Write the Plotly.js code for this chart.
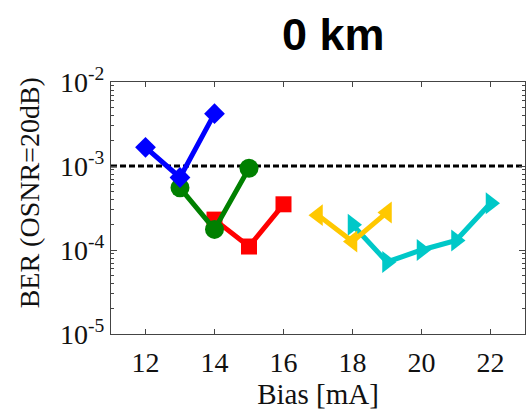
<!DOCTYPE html>
<html>
<head>
<meta charset="utf-8">
<script src="https://cdn.plot.ly/plotly-3.0.1.min.js"></script>
<style>
  html, body { margin: 0; padding: 0; background: #fff; }
  #chart { width: 529px; height: 419px; }
</style>
</head>
<body>
<div id="chart"></div>
<script>
// BER at OSNR = 20 dB versus laser bias current, 0 km transmission
const biasBlue   = [12, 13, 14];
const berBlue    = [1.67e-3, 7.3e-4, 4.2e-3];

const biasGreen  = [13, 14, 15];
const berGreen   = [5.5e-4, 1.76e-4, 9.4e-4];

const biasRed    = [14, 15, 16];
const berRed     = [2.3e-4, 1.1e-4, 3.5e-4];

const biasYellow = [17, 18, 19];
const berYellow  = [2.6e-4, 1.26e-4, 2.8e-4];

const biasCyan   = [18, 19, 20, 21, 22];
const berCyan    = [2.0e-4, 7.2e-5, 1.0e-4, 1.3e-4, 3.6e-4];

// FEC threshold drawn across the full bias range
const thresholdBias = [11, 23];
const thresholdBer  = [1e-3, 1e-3];

const xTicks = [12, 14, 16, 18, 20, 22];
const yTickVals = [1e-5, 1e-4, 1e-3, 1e-2];
const yTickText = ['10<sup>-5</sup>', '10<sup>-4</sup>', '10<sup>-3</sup>', '10<sup>-2</sup>'];

const serif = 'Liberation Serif';
const sans = 'Liberation Sans';

function series(x, y, color, symbol, size) {
  return {
    x: x, y: y, type: 'scatter', mode: 'lines+markers',
    line: { color: color, width: 5 },
    marker: { color: color, symbol: symbol, size: size, line: { width: 0 } },
    showlegend: false, hoverinfo: 'x+y'
  };
}

const traces = [
  {
    x: thresholdBias, y: thresholdBer, type: 'scatter', mode: 'lines',
    line: { color: '#000', width: 3, dash: '6px,3px' },
    showlegend: false, hoverinfo: 'skip'
  },
  series(biasCyan,   berCyan,   '#00c8c8', 'triangle-right', 19),
  series(biasRed,    berRed,    '#ff0000', 'square', 16),
  series(biasGreen,  berGreen,  '#008000', 'circle', 19),
  series(biasBlue,   berBlue,   '#0000ff', 'diamond', 16),
  series(biasYellow, berYellow, '#ffc800', 'triangle-left', 19)
];

const layout = {
  width: 529, height: 419,
  margin: { l: 111, r: 4, t: 82, b: 85 },
  paper_bgcolor: '#fff', plot_bgcolor: '#fff',
  font: { family: serif },
  title: {
    text: '<b>0 km</b>',
    font: { family: sans, size: 45, color: '#000' },
    xref: 'container', x: 0.63, xanchor: 'center',
    yref: 'container', y: 0.919, yanchor: 'middle'
  },
  xaxis: {
    range: [11, 23],
    tickvals: xTicks,
    ticks: 'inside', ticklen: 5, tickcolor: '#444', tickwidth: 1,
    ticklabelstandoff: 3,
    showline: true, linecolor: '#444', linewidth: 1, mirror: 'ticks',
    showgrid: false, zeroline: false,
    tickfont: { family: serif, size: 28, color: '#111' },
    title: { text: 'Bias [mA]', font: { family: serif, size: 29, color: '#111' }, standoff: 5 }
  },
  yaxis: {
    type: 'log',
    range: [-5, -2],
    tickmode: 'array', tickvals: yTickVals, ticktext: yTickText,
    ticks: 'inside', ticklen: 6, tickcolor: '#444', tickwidth: 1,
    minor: { ticks: 'inside', ticklen: 3, dtick: 'D1', tickcolor: '#444', showgrid: false },
    showline: true, linecolor: '#444', linewidth: 1, mirror: 'ticks',
    showgrid: false, zeroline: false,
    tickfont: { family: serif, size: 28, color: '#111' }
  },
  annotations: [{
    text: 'BER (OSNR=20dB)',
    xref: 'paper', yref: 'paper',
    x: -0.196, y: 0.5615, xanchor: 'center', yanchor: 'middle',
    textangle: -90, showarrow: false,
    font: { family: serif, size: 28, color: '#111' }
  }]
};

Plotly.newPlot('chart', traces, layout, { displayModeBar: false, staticPlot: true });
</script>
</body>
</html>
